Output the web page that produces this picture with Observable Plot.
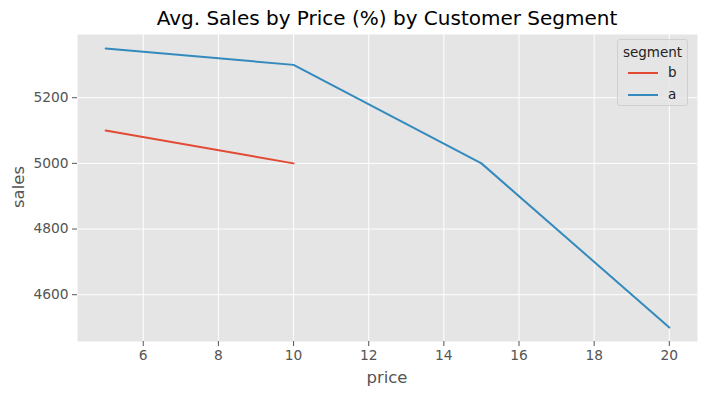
<!DOCTYPE html>
<html>
<head>
<meta charset="utf-8">
<script src="https://cdn.jsdelivr.net/npm/d3@7"></script>
<script src="https://cdn.jsdelivr.net/npm/@observablehq/plot@0.6"></script>
<style>
  body { margin: 0; background: #fff; font-family: "DejaVu Sans", sans-serif; }
  #wrap { position: relative; width: 705px; height: 395px; }
  .title { position: absolute; left: 77px; width: 620px; top: 6px; text-align: center; font-size: 20px; color: #000; }
  .xlabel { position: absolute; left: 77px; width: 620px; top: 368px; text-align: center; font-size: 16.5px; color: #555; }
  .ylabel { position: absolute; left: 18px; top: 187px; transform: translate(-50%, -50%) rotate(-90deg); font-size: 16.5px; color: #555; }
  .legend { position: absolute; left: 617px; top: 39px; width: 71px; height: 67px; box-sizing: border-box;
            background: rgba(229,229,229,0.8); border: 1px solid #d0d0d0; border-radius: 3px; font-size: 13.5px; color: #222; }
  .legend .lt { position: absolute; top: 4px; width: 100%; text-align: center; }
  .legend .row { position: absolute; left: 10px; height: 16px; }
  .legend .sw { position: absolute; left: 0; top: 7px; width: 30px; height: 2px; }
  .legend .lb { position: absolute; left: 40px; top: -1px; }
</style>
</head>
<body>
<div id="wrap"></div>
<script>
const segments = ["b", "a"];
const colors = ["#E24A33", "#348ABD"];
const pricesA = [5, 10, 15, 20];
const salesA = [5350, 5300, 5000, 4500];
const pricesB = [5, 10];
const salesB = [5100, 5000];
const xTicks = [6, 8, 10, 12, 14, 16, 18, 20];
const yTicks = [4600, 4800, 5000, 5200];

const data = [
  ...pricesB.map((p, i) => ({segment: "b", price: p, sales: salesB[i]})),
  ...pricesA.map((p, i) => ({segment: "a", price: p, sales: salesA[i]}))
];

const chart = Plot.plot({
  width: 705,
  height: 395,
  marginLeft: 77,
  marginRight: 8,
  marginTop: 34,
  marginBottom: 54,
  style: { fontFamily: "DejaVu Sans, sans-serif", fontSize: "13.8px", color: "#555", background: "transparent" },
  x: { domain: [4.25, 20.75], label: null },
  y: { domain: [4457.5, 5392.5], label: null },
  color: { domain: segments, range: colors },
  marks: [
    Plot.frame({ fill: "#E5E5E5", stroke: null }),
    Plot.gridX(xTicks, { stroke: "white", strokeOpacity: 1, strokeWidth: 1 }),
    Plot.gridY(yTicks, { stroke: "white", strokeOpacity: 1, strokeWidth: 1 }),
    Plot.axisX(xTicks, { tickSize: 5, tickPadding: 4, label: null, stroke: "#555", fill: "#555", tickFormat: d => String(d) }),
    Plot.axisY(yTicks, { tickSize: 5, tickPadding: 4, label: null, stroke: "#555", fill: "#555", tickFormat: d => String(d) }),
    Plot.line(data, { x: "price", y: "sales", z: "segment", stroke: "segment", strokeWidth: 2 })
  ]
});

const wrap = document.getElementById("wrap");
wrap.appendChild(chart);

function addDiv(cls, text) {
  const d = document.createElement("div");
  d.className = cls;
  d.textContent = text;
  wrap.appendChild(d);
  return d;
}
addDiv("title", "Avg. Sales by Price (%) by Customer Segment");
addDiv("xlabel", "price");
addDiv("ylabel", "sales");

const leg = document.createElement("div");
leg.className = "legend";
const lt = document.createElement("div");
lt.className = "lt";
lt.textContent = "segment";
leg.appendChild(lt);
segments.forEach((s, i) => {
  const row = document.createElement("div");
  row.className = "row";
  row.style.top = (25 + i * 22) + "px";
  const sw = document.createElement("div");
  sw.className = "sw";
  sw.style.background = colors[i];
  const lb = document.createElement("div");
  lb.className = "lb";
  lb.textContent = s;
  row.appendChild(sw);
  row.appendChild(lb);
  leg.appendChild(row);
});
wrap.appendChild(leg);
</script>
</body>
</html>
